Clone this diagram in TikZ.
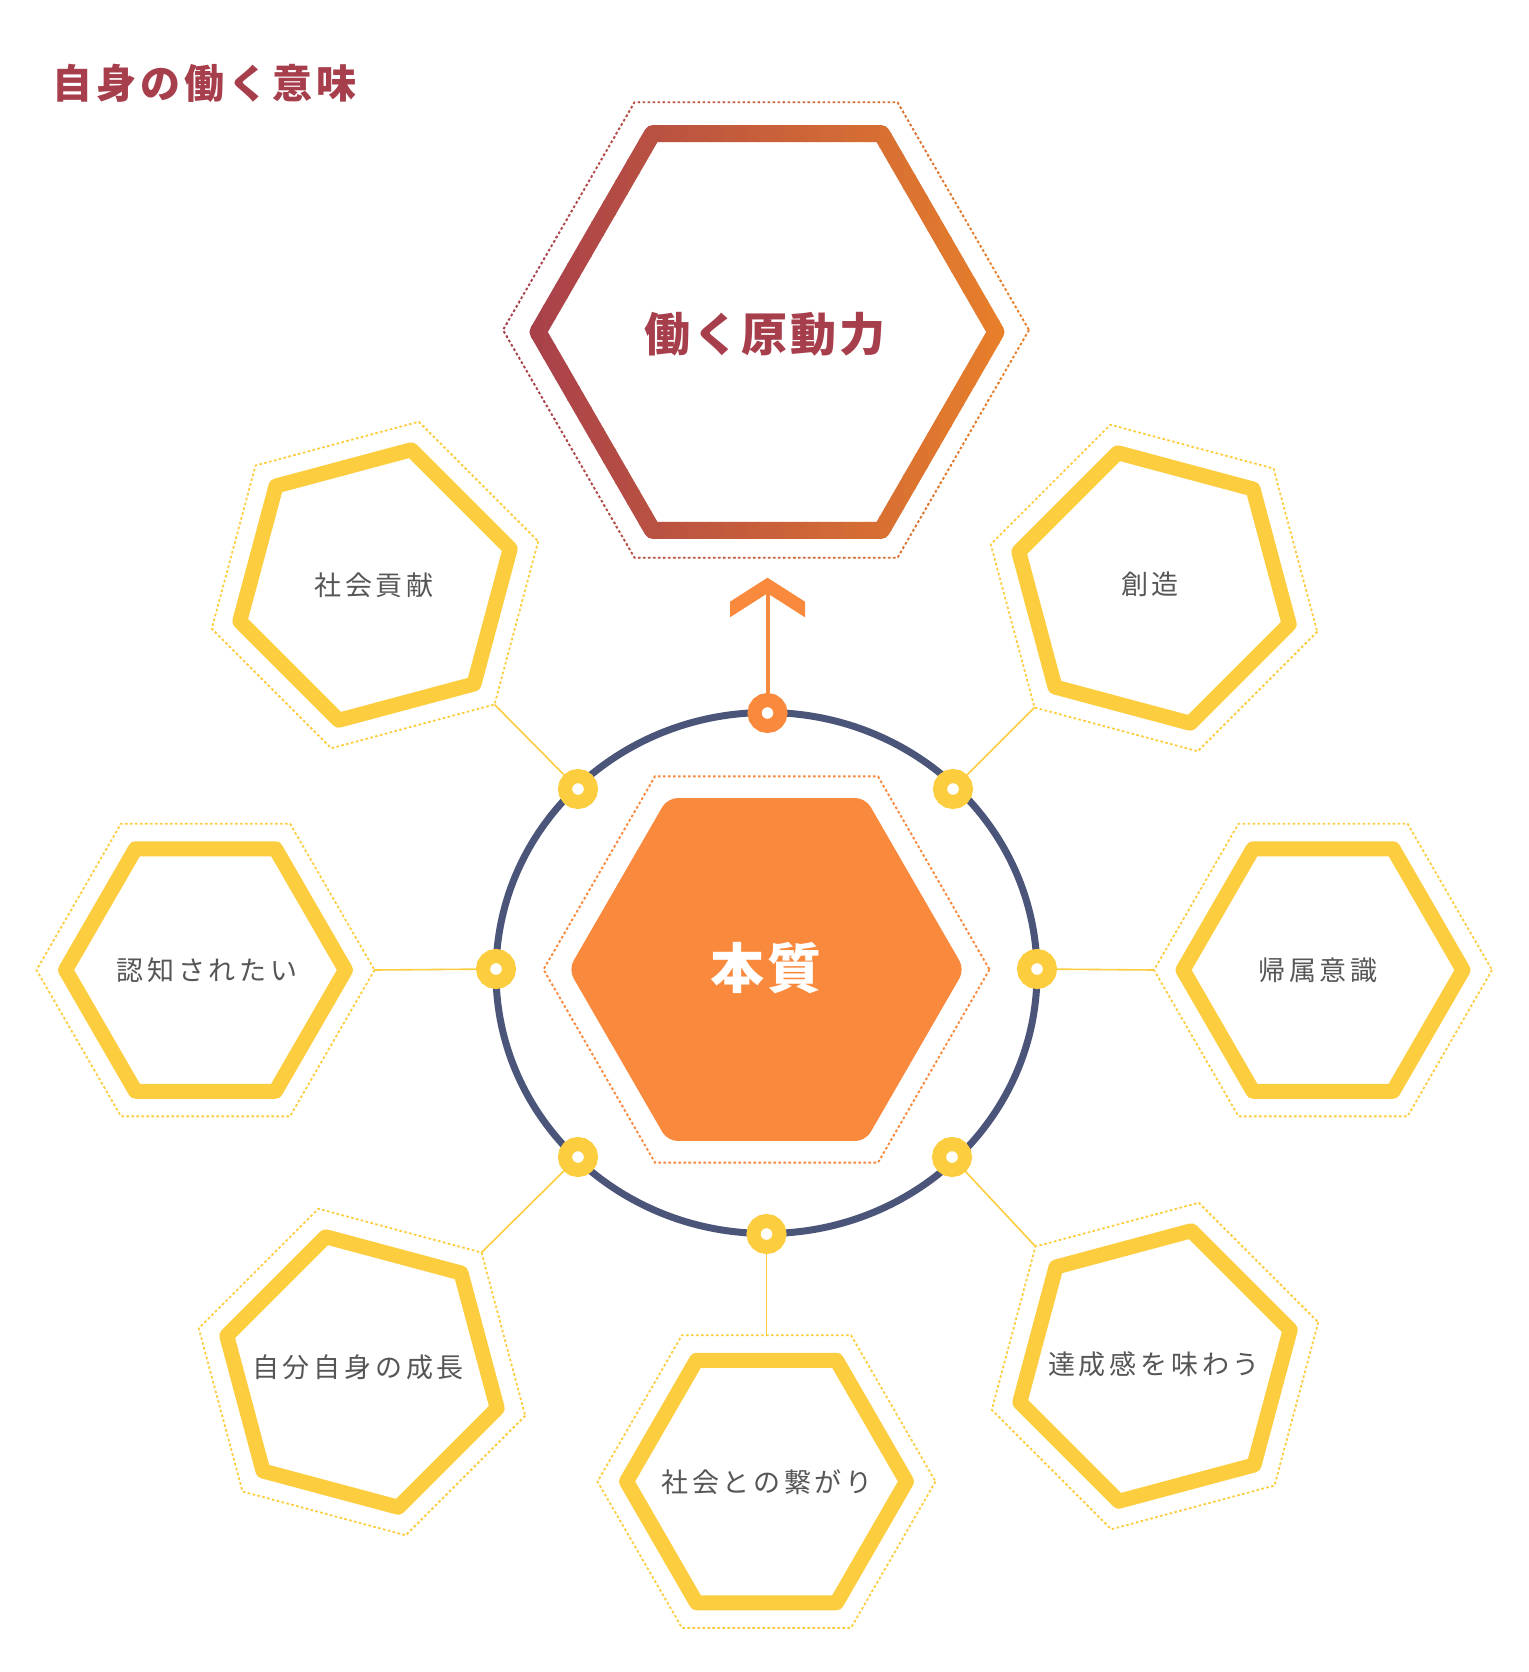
\documentclass[tikz,border=0pt]{standalone}
\usepackage{fontspec}
\setmainfont{Noto Sans CJK JP}
\newfontfamily\jp{Noto Sans CJK JP}
\usetikzlibrary{calc}
\definecolor{ygold}{HTML}{FDCD40}
\definecolor{navy}{HTML}{4A5579}
\definecolor{orng}{HTML}{F98A3D}
\definecolor{wine}{HTML}{A73E4C}
\definecolor{gradA}{HTML}{A8404B}
\definecolor{gradB}{HTML}{E8802A}
\definecolor{txtgray}{HTML}{565656}
\begin{document}
\begin{tikzpicture}[x=1pt,y=-1pt,
  yhex/.style={draw=ygold, line width=15pt, line join=round},
  ydot/.style={draw=ygold, line width=1.8pt, dash pattern=on 2.6pt off 2.4pt},
  conn/.style={draw=ygold, line width=1.6pt},
  ringdot/.style={circle, draw=ygold, line width=14pt, fill=white, minimum size=26pt, inner sep=0pt},
  orringdot/.style={ringdot, draw=orng},
  lbl/.style={font=\jp\fontsize{27}{31}\selectfont\addfontfeatures{LetterSpace=14}, text=txtgray, inner sep=0pt},
]
\useasboundingbox (0,0) rectangle (1528,1672);
\fill[white] (0,0) rectangle (1528,1672);

% title
\node[anchor=west, inner sep=0pt, text=wine, font=\jp\bfseries\fontsize{40}{46}\selectfont\addfontfeatures{LetterSpace=10}] (title) at (52,83) {自身の働く意味};

% top hexagon with horizontal gradient
\coordinate (ctop) at (767,332);
\coordinate (ctopd) at (766,330);
\foreach \i in {0,...,47} {
  \pgfmathsetmacro\xl{495+\i*12}
  \pgfmathtruncatemacro\pc{min(100,max(0,(\xl+6-525)/(1005-525)*100))}
  \begin{scope}
    \clip (\xl,60) rectangle (\xl+12.8,600);
    \draw[line width=17pt, line join=round, draw=gradB!\pc!gradA, shift={(ctop)}]
      (0:229) -- (60:229) -- (120:229) -- (180:229) -- (240:229) -- (300:229) -- cycle;
    \draw[line width=1.9pt, dash pattern=on 2.6pt off 2.4pt, draw=gradB!\pc!gradA, shift={(ctopd)}]
      (0:263) -- (60:263) -- (120:263) -- (180:263) -- (240:263) -- (300:263) -- cycle;
  \end{scope}
}
\node[inner sep=0pt, text=wine, font=\jp\bfseries\fontsize{46}{52}\selectfont\addfontfeatures{LetterSpace=6}] (tTop) at (765,334) {働く原動力};

% circle
\draw[navy, line width=7pt] (766.5,973) ellipse [x radius=270.5pt, y radius=260.5pt];

% central hexagon
\coordinate (cc) at (766.5,969.5);
\fill[orng, rounded corners=10pt, shift={(cc)}]
  (0:198) -- (60:198) -- (120:198) -- (180:198) -- (240:198) -- (300:198) -- cycle;
\draw[orng, line width=1.9pt, dash pattern=on 2.6pt off 2.4pt, shift={(cc)}]
  (0:223) -- (60:223) -- (120:223) -- (180:223) -- (240:223) -- (300:223) -- cycle;
\node[inner sep=0pt, text=white, font=\jp\bfseries\fontsize{54}{60}\selectfont\addfontfeatures{LetterSpace=4}] (tcore) at (766,968) {本質};

% top dot and arrow
\node[orringdot] (dT) at (767.5,713) {};
\coordinate (tip) at (767.5,593.3);
\draw[orng, line width=4pt] (dT) -- (tip);
\fill[orng] (730,601.7) -- (767.5,577.7) -- (805,601.7) -- (805,617.3) -- (767.5,593.3) -- (730,617.3) -- cycle;

% peripheral hexagons
\foreach \nm/\cx/\cy/\o/\va/\vr/\dx/\dy/\tx/\ty/\txt in {
  A/375/585/-15/45/169/578/789/374/585/社会貢献,
  B/1154/588/15/135/169/953/789/1150/584/創造,
  C/205.5/970/0/0/169/496/969/207/970/認知されたい,
  D/1323/970/0/180/169/1037/969/1318/970/帰属意識,
  E/362/1372/15/-45/169/578/1157/358/1367/自分自身の成長,
  F/1155/1366/-15/225/169/952/1157/1154/1364/達成感を味わう,
  G/766.5/1481.5/0/-90/146.4/766.5/1234/767/1482/社会との繋がり} {
  \coordinate (c\nm) at (\cx,\cy);
  \draw[ydot, shift={(c\nm)}]
    (\o:169) -- (\o+60:169) -- (\o+120:169) -- (\o+180:169) -- (\o+240:169) -- (\o+300:169) -- cycle;
  \draw[yhex, shift={(c\nm)}]
    (\o:140) -- (\o+60:140) -- (\o+120:140) -- (\o+180:140) -- (\o+240:140) -- (\o+300:140) -- cycle;
  \node[lbl] (t\nm) at (\tx,\ty) {\txt};
  \coordinate (v\nm) at ($(c\nm)+(\va:\vr)$);
  \node[ringdot] (d\nm) at (\dx,\dy) {};
  \draw[conn] (d\nm) -- (v\nm);
}
\end{tikzpicture}
\end{document}
